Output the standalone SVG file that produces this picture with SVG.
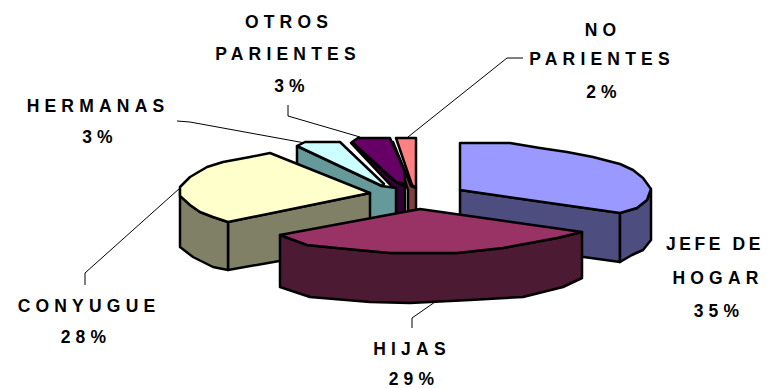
<svg xmlns="http://www.w3.org/2000/svg" width="767" height="388" viewBox="0 0 767 388">
<style>
.s{stroke:#000;stroke-width:2.5;stroke-linejoin:round}
.l{fill:none;stroke:#000;stroke-width:1}
text{font-family:"Liberation Sans",Arial,sans-serif;font-weight:bold;font-size:17.5px;letter-spacing:5.2px;text-anchor:middle;fill:#000}
</style>
<rect width="767" height="388" fill="#fff"/>
<g id="connectors">
<polyline class="l" points="288,105 288,116 360,137"/>
<polyline class="l" points="177,121 190,122 305,143"/>
<polyline class="l" points="523,58 507,58 408,137"/>
<polyline class="l" points="85,285 85,273 180,188"/>
<polyline class="l" points="412,328 412,318 435,302"/>
</g>
<g id="no-parientes">
<polygon class="s" fill="#804040" points="393,142 411,186 416,188 416,212 408,212 408,190"/>
<polygon class="s" fill="#FF8080" points="396,138 416,138 416,188 412,185"/>
</g>
<g id="otros-parientes">
<polygon class="s" fill="#330033" points="351,143 396,182 405,186 405,213 395,213 395,190"/>
<polygon class="s" fill="#660066" points="352,142 358,138 390,138 404,170 405,184 396,182"/>
</g>
<g id="hermanas">
<polygon class="s" fill="#669999" points="297,146 382,186 396,188 396,218 370,222 297,190"/>
<polygon class="s" fill="#CCFFFF" points="297,146 305,142 340,142 384,184 382,186"/>
</g>
<g id="jefe-de-hogar">
<polygon class="s" fill="#4D4D80" points="460,190 620,213 620,262 460,240"/>
<polygon class="s" fill="#4D4D80" points="620,213 637,208 647,200 651,190 651,240 643,250 632,255 620,262"/>
<polygon class="s" fill="#9999FF" points="460,143 510,143 540,148 567,152 593,157 620,164 633,170 643,178 651,189 647,200 637,208 620,213 460,190"/>
</g>
<g id="conyugue">
<polygon class="s" fill="#808066" points="228,222 370,193 370,245 228,270"/>
<polygon class="s" fill="#808066" points="180,190 190,205 200,212 213,217 228,222 228,270 213,267 193,257 180,247"/>
<polygon class="s" fill="#FFFFCC" points="270,153 370,193 228,222 213,217 200,212 190,205 180,196 180,187 190,177 207,167 223,162 250,157"/>
</g>
<g id="hijas">
<polygon class="s" fill="#4D1A33" points="280,235 307,245 337,248 390,253 457,253 503,248 557,238 582,232 582,278 563,287 523,297 470,300 410,303 370,302 310,297 280,287"/>
<polygon class="s" fill="#993366" points="420,209 582,232 557,238 503,248 457,253 390,253 337,248 307,245 280,235"/>
</g>
<g id="labels">
<text x="289" y="28">OTROS</text>
<text x="288" y="60">PARIENTES</text>
<text x="292" y="92">3%</text>
<text x="603" y="36">NO</text>
<text x="602" y="65">PARIENTES</text>
<text x="604" y="98">2%</text>
<text x="98" y="112">HERMANAS</text>
<text x="100" y="143">3%</text>
<text x="715" y="250" style="letter-spacing:3.6px">JEFE DE</text>
<text x="718" y="284">HOGAR</text>
<text x="719" y="317">35%</text>
<text x="89" y="312">CONYUGUE</text>
<text x="86" y="343">28%</text>
<text x="412" y="355">HIJAS</text>
<text x="414" y="385">29%</text>
</g>
</svg>
